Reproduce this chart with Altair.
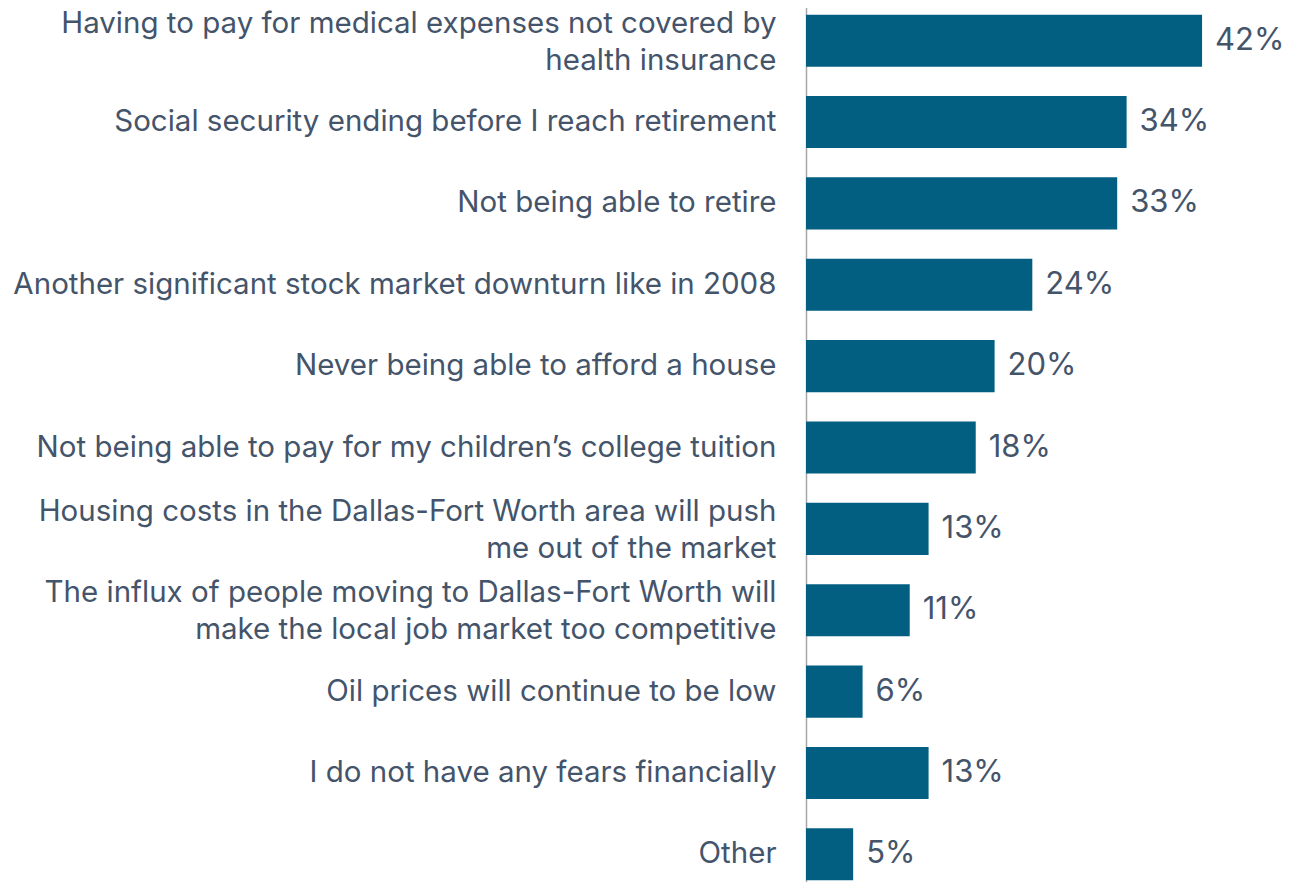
import altair as alt
import pandas as pd

categories = [
    "Having to pay for medical expenses not covered by|health insurance",
    "Social security ending before I reach retirement",
    "Not being able to retire",
    "Another significant stock market downturn like in 2008",
    "Never being able to afford a house",
    "Not being able to pay for my children\u2019s college tuition",
    "Housing costs in the Dallas-Fort Worth area will push|me out of the market",
    "The influx of people moving to Dallas-Fort Worth will|make the local job market too competitive",
    "Oil prices will continue to be low",
    "I do not have any fears financially",
    "Other  ",
]
values = [42, 34, 33, 24, 20, 18, 13, 11, 6, 13, 5]

df = pd.DataFrame({"category": categories, "value": values})
df["label"] = df["value"].astype(str) + "%"

PX_PER_PCT = 9.43
XMAX = 50
BAR = "#035f82"
TXT = "#44546a"
FONT = "Inter"

y_enc = alt.Y(
    "category:N",
    sort=None,
    title=None,
    scale=alt.Scale(paddingInner=0.36, paddingOuter=0.18),
    axis=alt.Axis(
        labelExpr="split(datum.label, '|')",
        labelFont=FONT,
        labelFontSize=29.5,
        labelColor=TXT,
        labelLineHeight=37,
        labelPadding=30,
        labelLimit=800,
        labelOffset={
            "condition": {"test": "indexof(datum.label, '|') >= 0", "value": -17},
            "value": 0,
        },
        ticks=False,
        domainColor="#a6a6a6",
        domainWidth=1.5,
        grid=False,
    ),
)

x_enc = alt.X(
    "value:Q",
    scale=alt.Scale(domain=[0, XMAX], nice=False),
    axis=None,
)

bars = alt.Chart(df).mark_bar(color=BAR).encode(y=y_enc, x=x_enc)
text = alt.Chart(df).mark_text(
    align="left", baseline="middle", dx=13, font=FONT, fontSize=31, color=TXT
).encode(y=alt.Y("category:N", sort=None), x="value:Q", text="label:N")

chart = (
    alt.layer(bars, text)
    .properties(
        width=XMAX * PX_PER_PCT,
        height=895,
        autosize=alt.AutoSizeParams(type="none"),
        padding={"left": 798, "top": -8, "right": 5, "bottom": -13},
    )
    .configure_view(stroke=None)
)

chart.save("out.html", embed_options={"renderer": "svg", "actions": False})
